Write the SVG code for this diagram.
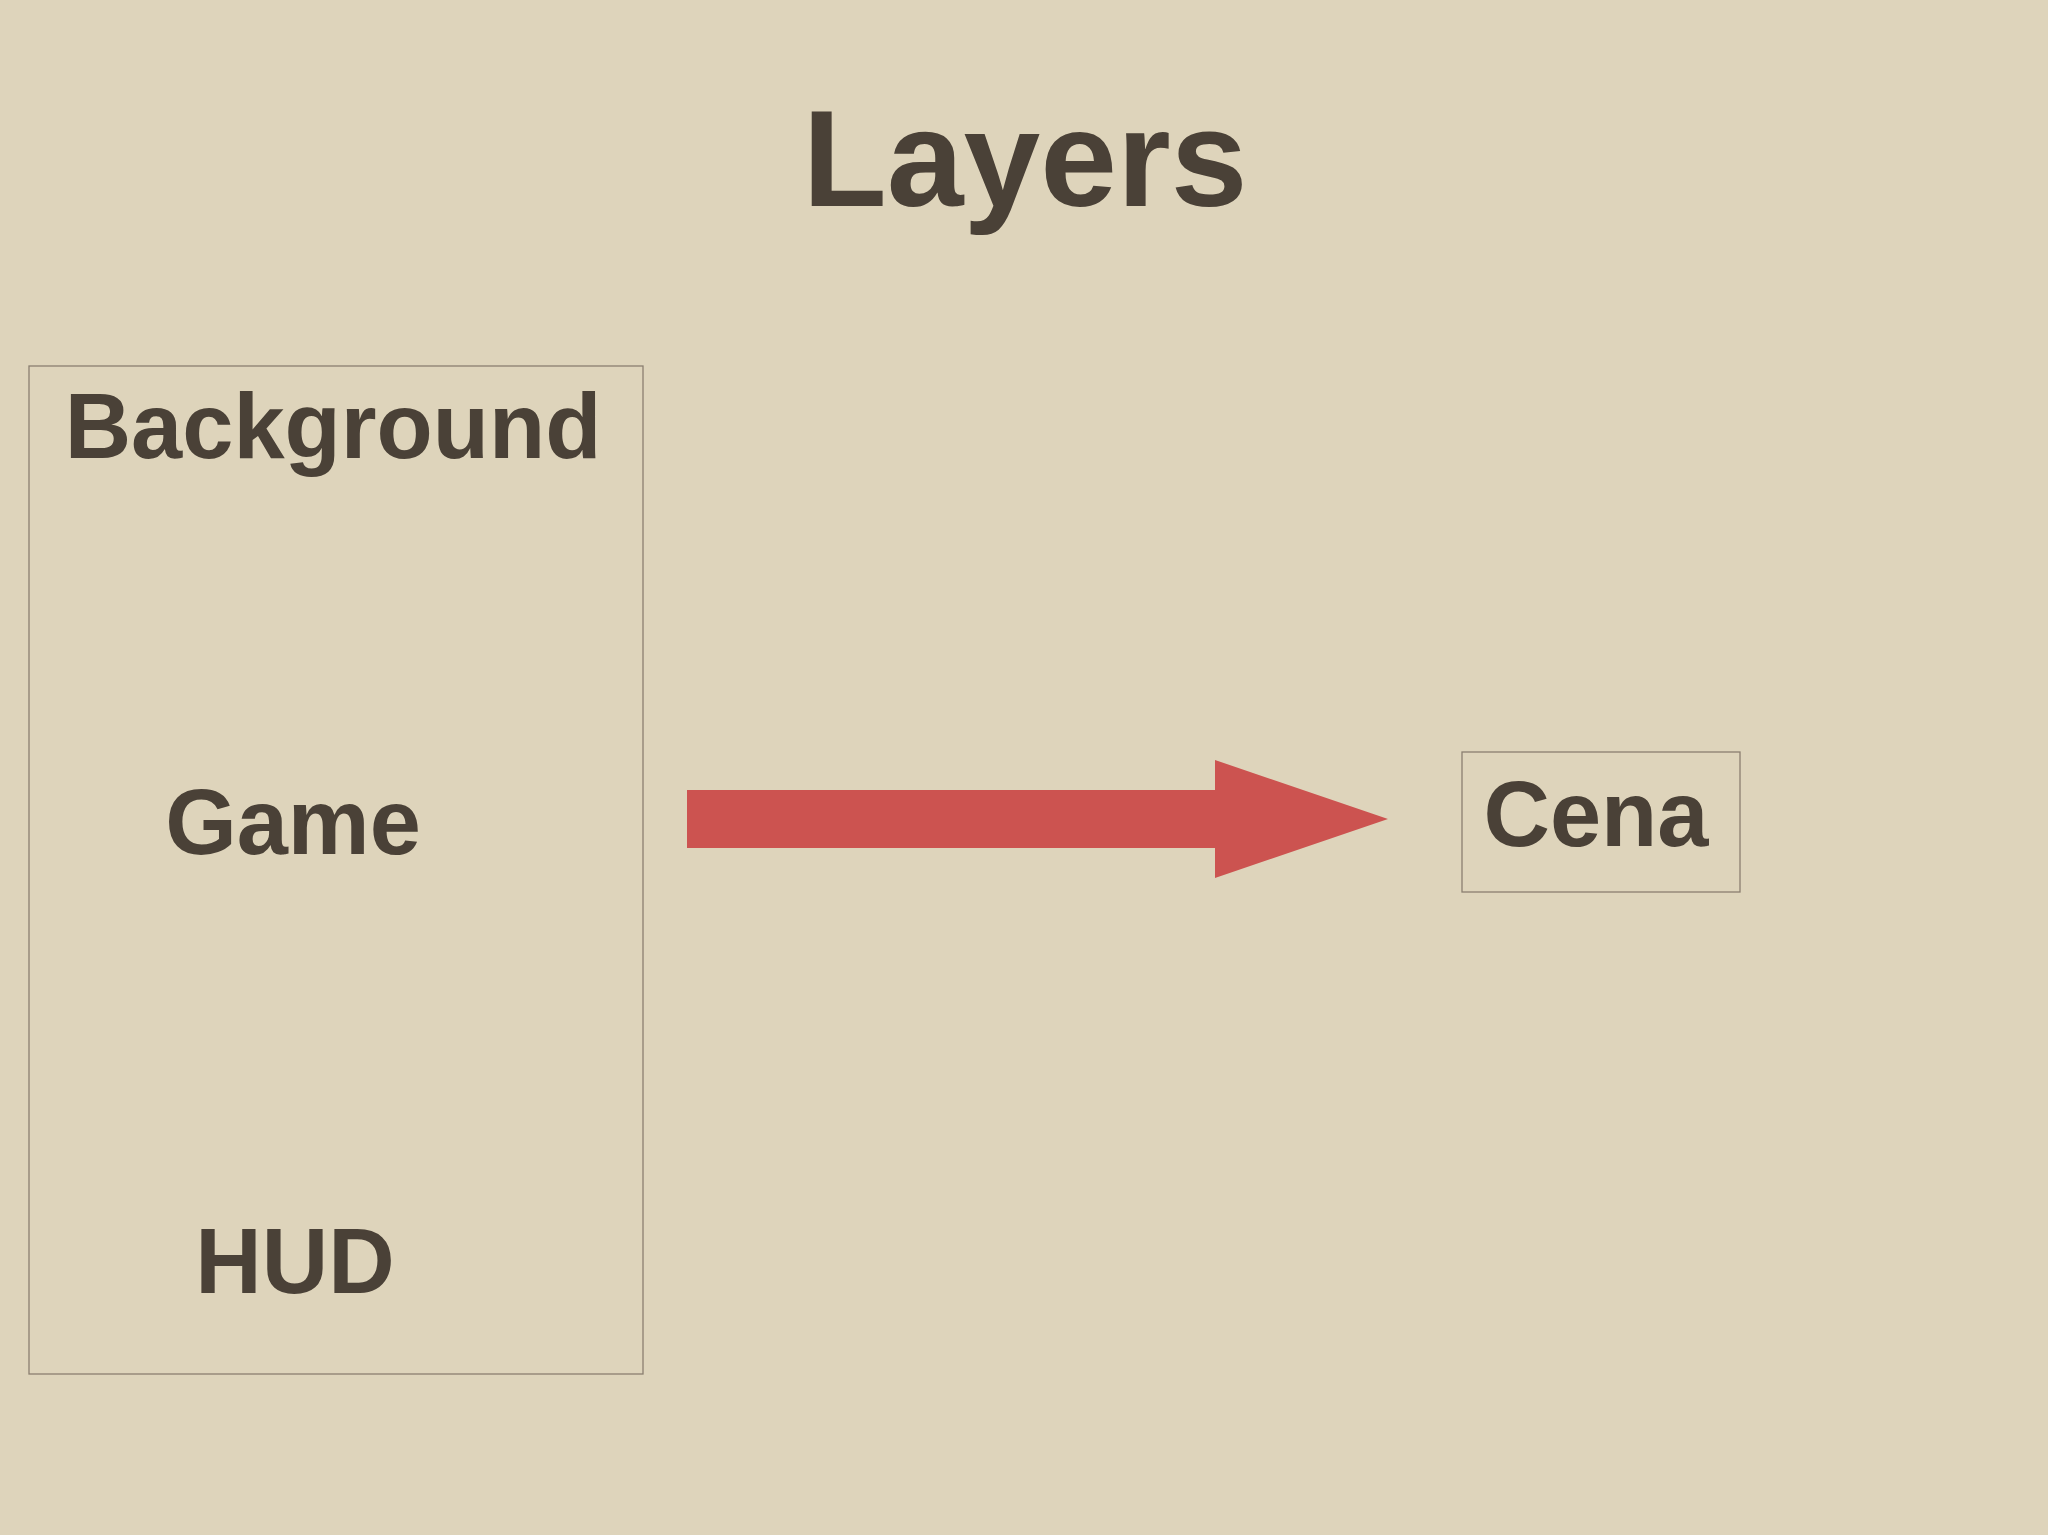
<svg xmlns="http://www.w3.org/2000/svg" width="2048" height="1535" viewBox="0 0 2048 1535">
<style>
text{font-family:"Liberation Sans",Arial,sans-serif;font-weight:bold;fill:#4a4137;text-anchor:middle}
.box{fill:none;stroke:#8a7f70;stroke-width:1.3}
</style>
<rect width="2048" height="1535" fill="#ded4bb"/>
<text x="1025" y="206" font-size="138">Layers</text>
<g id="layers">
<rect class="box" x="29" y="366" width="614" height="1008"/>
<text x="333" y="458" font-size="92">Background</text>
<text x="293" y="854" font-size="92">Game</text>
<text x="295" y="1293" font-size="92">HUD</text>
</g>
<g id="cena">
<rect class="box" x="1462" y="752" width="278" height="140"/>
<text x="1596" y="846" font-size="92">Cena</text>
</g>
<g id="connectors">
<polygon points="687,790 1215,790 1215,760 1388,819 1215,878 1215,848 687,848" fill="#cc5350"/>
</g>
</svg>
